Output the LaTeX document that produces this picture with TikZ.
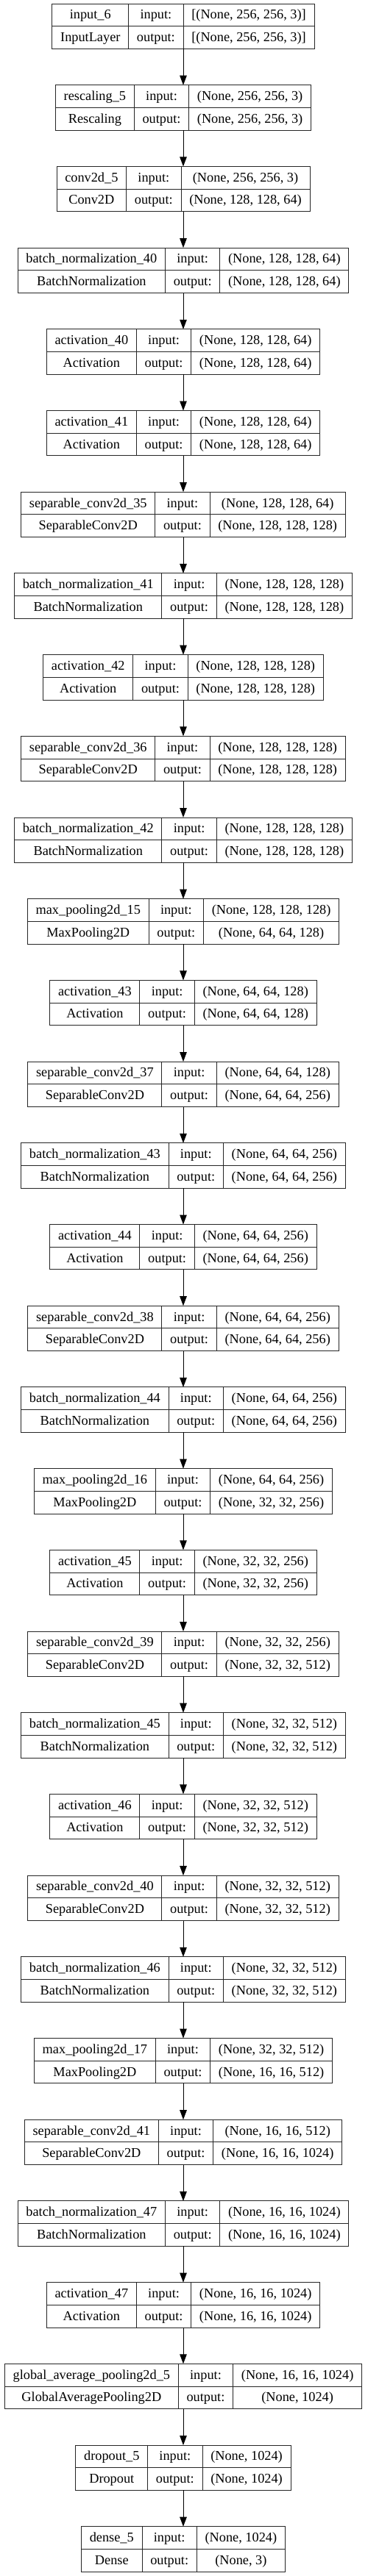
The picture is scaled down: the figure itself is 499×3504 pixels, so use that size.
\documentclass[tikz,border=0pt]{standalone}
\usepackage{fontspec}
\setmainfont{Liberation Serif}
\usepackage{tikz}
\usetikzlibrary{arrows.meta}

\newcommand{\layerfont}{\fontsize{18.3}{22}\selectfont}
\newlength{\wname}\newlength{\wio}\newlength{\wshape}\newlength{\wtmp}
\newlength{\wtotal}\newlength{\xleft}\newlength{\ytop}

% widest of two texts plus cell padding, into #1
\newcommand{\cellwidth}[3]{%
  \pgfinterruptpicture
    \settowidth{\wtmp}{\layerfont #2}\global#1=\wtmp
    \settowidth{\wtmp}{\layerfont #3}\ifdim\wtmp>#1 \global#1=\wtmp\fi
  \endpgfinterruptpicture
  \global\advance#1 by 22.5pt\relax}

% one keras layer box: node name, row, layer, class, input shape, output shape
\newcommand{\kerasbox}[6]{%
  \cellwidth{\wname}{#3}{#4}\cellwidth{\wio}{input:}{output:}\cellwidth{\wshape}{#5}{#6}%
  \setlength{\wtotal}{\dimexpr\wname+\wio+\wshape\relax}%
  \setlength{\xleft}{\dimexpr 249pt-0.5\wtotal\relax}%
  \setlength{\ytop}{\dimexpr -5pt-110.7pt*#2\relax}%
  \node[box, minimum width=\wtotal, anchor=north] (#1) at (249pt,\ytop) {};
  \node[cell, minimum width=\wname, anchor=north west] (#1-n) at (\xleft,\ytop) {#3};
  \node[cell, minimum width=\wname, anchor=north] (#1-c) at (#1-n.south) {#4};
  \node[cell, minimum width=\wio, anchor=north west] (#1-i) at (#1-n.north east) {input:};
  \node[cell, minimum width=\wio, anchor=north] (#1-o) at (#1-i.south) {output:};
  \node[cell, minimum width=\wshape, anchor=north west] (#1-is) at (#1-i.north east) {#5};
  \node[cell, minimum width=\wshape, anchor=north] (#1-os) at (#1-is.south) {#6};
}

\tikzset{
  cell/.style={draw=black!85, line width=1pt, font=\layerfont, inner sep=0pt, outer sep=0pt,
    minimum height=30.7pt, text height=12pt, text depth=1pt},
  box/.style={inner sep=0pt, outer sep=0pt, minimum height=61.4pt},
  flow/.style={line width=1pt, -{Triangle[length=13pt,width=9.5pt]}}
}

\begin{document}
\begin{tikzpicture}
\useasboundingbox (0pt,0pt) rectangle (499pt,-3504pt);
\kerasbox{in6}{0}{input\_6}{InputLayer}{[(None, 256, 256, 3)]}{[(None, 256, 256, 3)]}
\kerasbox{resc5}{1}{rescaling\_5}{Rescaling}{(None, 256, 256, 3)}{(None, 256, 256, 3)}
\kerasbox{conv5}{2}{conv2d\_5}{Conv2D}{(None, 256, 256, 3)}{(None, 128, 128, 64)}
\kerasbox{bn40}{3}{batch\_normalization\_40}{BatchNormalization}{(None, 128, 128, 64)}{(None, 128, 128, 64)}
\kerasbox{act40}{4}{activation\_40}{Activation}{(None, 128, 128, 64)}{(None, 128, 128, 64)}
\kerasbox{act41}{5}{activation\_41}{Activation}{(None, 128, 128, 64)}{(None, 128, 128, 64)}
\kerasbox{sep35}{6}{separable\_conv2d\_35}{SeparableConv2D}{(None, 128, 128, 64)}{(None, 128, 128, 128)}
\kerasbox{bn41}{7}{batch\_normalization\_41}{BatchNormalization}{(None, 128, 128, 128)}{(None, 128, 128, 128)}
\kerasbox{act42}{8}{activation\_42}{Activation}{(None, 128, 128, 128)}{(None, 128, 128, 128)}
\kerasbox{sep36}{9}{separable\_conv2d\_36}{SeparableConv2D}{(None, 128, 128, 128)}{(None, 128, 128, 128)}
\kerasbox{bn42}{10}{batch\_normalization\_42}{BatchNormalization}{(None, 128, 128, 128)}{(None, 128, 128, 128)}
\kerasbox{pool15}{11}{max\_pooling2d\_15}{MaxPooling2D}{(None, 128, 128, 128)}{(None, 64, 64, 128)}
\kerasbox{act43}{12}{activation\_43}{Activation}{(None, 64, 64, 128)}{(None, 64, 64, 128)}
\kerasbox{sep37}{13}{separable\_conv2d\_37}{SeparableConv2D}{(None, 64, 64, 128)}{(None, 64, 64, 256)}
\kerasbox{bn43}{14}{batch\_normalization\_43}{BatchNormalization}{(None, 64, 64, 256)}{(None, 64, 64, 256)}
\kerasbox{act44}{15}{activation\_44}{Activation}{(None, 64, 64, 256)}{(None, 64, 64, 256)}
\kerasbox{sep38}{16}{separable\_conv2d\_38}{SeparableConv2D}{(None, 64, 64, 256)}{(None, 64, 64, 256)}
\kerasbox{bn44}{17}{batch\_normalization\_44}{BatchNormalization}{(None, 64, 64, 256)}{(None, 64, 64, 256)}
\kerasbox{pool16}{18}{max\_pooling2d\_16}{MaxPooling2D}{(None, 64, 64, 256)}{(None, 32, 32, 256)}
\kerasbox{act45}{19}{activation\_45}{Activation}{(None, 32, 32, 256)}{(None, 32, 32, 256)}
\kerasbox{sep39}{20}{separable\_conv2d\_39}{SeparableConv2D}{(None, 32, 32, 256)}{(None, 32, 32, 512)}
\kerasbox{bn45}{21}{batch\_normalization\_45}{BatchNormalization}{(None, 32, 32, 512)}{(None, 32, 32, 512)}
\kerasbox{act46}{22}{activation\_46}{Activation}{(None, 32, 32, 512)}{(None, 32, 32, 512)}
\kerasbox{sep40}{23}{separable\_conv2d\_40}{SeparableConv2D}{(None, 32, 32, 512)}{(None, 32, 32, 512)}
\kerasbox{bn46}{24}{batch\_normalization\_46}{BatchNormalization}{(None, 32, 32, 512)}{(None, 32, 32, 512)}
\kerasbox{pool17}{25}{max\_pooling2d\_17}{MaxPooling2D}{(None, 32, 32, 512)}{(None, 16, 16, 512)}
\kerasbox{sep41}{26}{separable\_conv2d\_41}{SeparableConv2D}{(None, 16, 16, 512)}{(None, 16, 16, 1024)}
\kerasbox{bn47}{27}{batch\_normalization\_47}{BatchNormalization}{(None, 16, 16, 1024)}{(None, 16, 16, 1024)}
\kerasbox{act47}{28}{activation\_47}{Activation}{(None, 16, 16, 1024)}{(None, 16, 16, 1024)}
\kerasbox{gap5}{29}{global\_average\_pooling2d\_5}{GlobalAveragePooling2D}{(None, 16, 16, 1024)}{(None, 1024)}
\kerasbox{drop5}{30}{dropout\_5}{Dropout}{(None, 1024)}{(None, 1024)}
\kerasbox{dense5}{31}{dense\_5}{Dense}{(None, 1024)}{(None, 3)}
% edges
\foreach \a/\b in {in6/resc5, resc5/conv5, conv5/bn40, bn40/act40, act40/act41, act41/sep35,
    sep35/bn41, bn41/act42, act42/sep36, sep36/bn42, bn42/pool15, pool15/act43, act43/sep37,
    sep37/bn43, bn43/act44, act44/sep38, sep38/bn44, bn44/pool16, pool16/act45, act45/sep39,
    sep39/bn45, bn45/act46, act46/sep40, sep40/bn46, bn46/pool17, pool17/sep41, sep41/bn47,
    bn47/act47, act47/gap5, gap5/drop5, drop5/dense5}
  \draw[flow] (\a.south) -- (\b.north);
\end{tikzpicture}
\end{document}
